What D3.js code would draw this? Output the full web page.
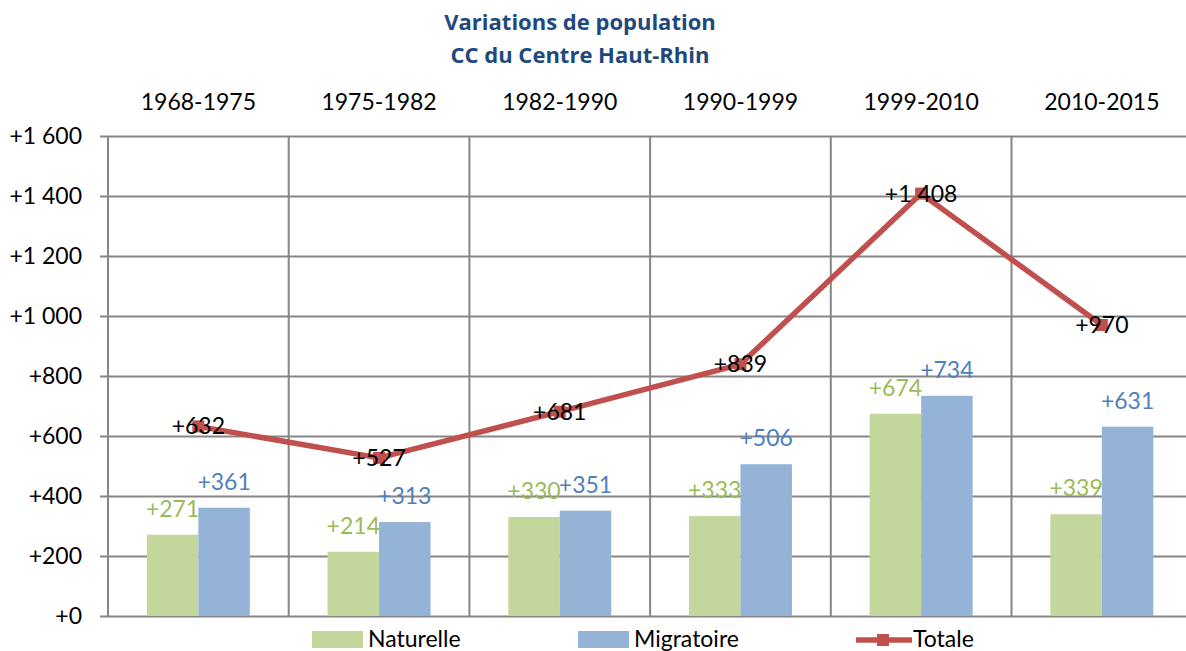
<!DOCTYPE html>
<html>
<head>
<meta charset="utf-8">
<script src="https://cdn.jsdelivr.net/npm/d3@7"></script>
<style>
  body { margin: 0; background: #fff; }
  svg text { font-family: Lato, "Open Sans", sans-serif; }
  svg text.title { font-family: "Open Sans", sans-serif; }
</style>
</head>
<body>
<div id="chart"></div>
<script>
// data
let periods = ["1968-1975", "1975-1982", "1982-1990", "1990-1999", "1999-2010", "2010-2015"];
let naturelle = [271, 214, 330, 333, 674, 339];
let migratoire = [361, 313, 351, 506, 734, 631];
let totale = [632, 527, 681, 839, 1408, 970];
let yTicks = [0, 200, 400, 600, 800, 1000, 1200, 1400, 1600];
let seriesNames = ["Naturelle", "Migratoire", "Totale"];

function makeChart() {
    let svgWidth = 1186;
    let svgHeight = 651;
    let margin = { top: 136, left: 108 };
    let w = 6 * 180.7;
    let h = 480;

    let fmt = v => {
        let s = String(Math.abs(v));
        s = s.replace(/\B(?=(\d{3})+(?!\d))/g, " ");
        return "+" + s;
    };

    let svg = d3.select("#chart")
        .append("svg")
        .attr("width", svgWidth)
        .attr("height", svgHeight);

    // title
    svg.append("text")
        .attr("class", "title")
        .attr("x", 580).attr("y", 30)
        .attr("text-anchor", "middle")
        .attr("font-size", "22px").attr("font-weight", "bold")
        .attr("fill", "#1f497d")
        .text("Variations de population");
    svg.append("text")
        .attr("class", "title")
        .attr("x", 580).attr("y", 63)
        .attr("text-anchor", "middle")
        .attr("font-size", "22px").attr("font-weight", "bold")
        .attr("fill", "#1f497d")
        .text("CC du Centre Haut-Rhin");

    let g = svg.append("g")
        .attr("transform", `translate(${margin.left}, ${margin.top})`);

    let x = d3.scaleBand().domain(periods).range([0, w]).padding(0);
    let xSub = d3.scaleBand().domain(["n", "m"]).range([0, x.bandwidth()])
        .paddingInner(0).paddingOuter(0.755);
    let y = d3.scaleLinear().domain([0, 1600]).range([h, 0]);

    // horizontal grid + ticks
    let yAxis = d3.axisLeft(y).tickValues(yTicks).tickFormat(fmt)
        .tickSize(-(w + 8)).tickPadding(18);
    let yg = g.append("g").call(yAxis);
    yg.select(".domain").remove();
    yg.selectAll(".tick line")
        .attr("x1", -8)
        .attr("x2", w)
        .attr("stroke", "#868686").attr("stroke-width", 2);
    yg.selectAll(".tick text")
        .attr("x", -26)
        .attr("font-size", "23px").attr("fill", "#000");

    // vertical grid lines at category boundaries
    g.append("g").selectAll("line")
        .data(periods)
        .enter().append("line")
        .attr("x1", d => x(d)).attr("x2", d => x(d))
        .attr("y1", 0).attr("y2", h)
        .attr("stroke", "#868686").attr("stroke-width", 2);

    // category labels on top
    let xAxis = d3.axisTop(x).tickSize(0).tickPadding(26);
    let xg = g.append("g").call(xAxis);
    xg.select(".domain").remove();
    xg.selectAll(".tick text").attr("font-size", "23px").attr("fill", "#000");

    // bars
    let barData = periods.map((p, i) => ({ p: p, n: naturelle[i], m: migratoire[i] }));
    let grp = g.append("g").selectAll("g")
        .data(barData).enter().append("g")
        .attr("transform", d => `translate(${x(d.p)},0)`);
    grp.append("rect")
        .attr("x", xSub("n")).attr("width", xSub.bandwidth())
        .attr("y", d => y(d.n)).attr("height", d => h - y(d.n))
        .attr("fill", "#c3d69b");
    grp.append("rect")
        .attr("x", xSub("m")).attr("width", xSub.bandwidth())
        .attr("y", d => y(d.m)).attr("height", d => h - y(d.m))
        .attr("fill", "#95b3d7");

    // line
    let cx = p => x(p) + x.bandwidth() / 2;
    let line = d3.line().x((d, i) => cx(periods[i])).y(d => y(d));
    g.append("path")
        .datum(totale)
        .attr("d", line)
        .attr("fill", "none")
        .attr("stroke", "#c0504d").attr("stroke-width", 5.5)
        .attr("stroke-linejoin", "round");
    g.append("g").selectAll("rect")
        .data(totale).enter().append("rect")
        .attr("x", (d, i) => cx(periods[i]) - 6)
        .attr("y", d => y(d) - 6)
        .attr("width", 12).attr("height", 12)
        .attr("fill", "#c0504d");

    // bar labels
    grp.append("text")
        .attr("x", xSub("n") + xSub.bandwidth() / 2)
        .attr("y", d => y(d.n) - 18)
        .attr("text-anchor", "middle")
        .attr("font-size", "23px").attr("fill", "#9bbb59")
        .text(d => fmt(d.n));
    grp.append("text")
        .attr("x", xSub("m") + xSub.bandwidth() / 2)
        .attr("y", d => y(d.m) - 18)
        .attr("text-anchor", "middle")
        .attr("font-size", "23px").attr("fill", "#4f81bd")
        .text(d => fmt(d.m));

    // line labels
    g.append("g").selectAll("text")
        .data(totale).enter().append("text")
        .attr("x", (d, i) => cx(periods[i]))
        .attr("y", d => y(d) + 8)
        .attr("text-anchor", "middle")
        .attr("font-size", "23px").attr("fill", "#000")
        .text(d => fmt(d));

    // legend
    let leg = svg.append("g");
    leg.append("rect").attr("x", 312).attr("y", 631).attr("width", 51).attr("height", 17).attr("fill", "#c3d69b");
    leg.append("text").attr("x", 368).attr("y", 647).attr("font-size", "23px").text(seriesNames[0]);
    leg.append("rect").attr("x", 578).attr("y", 631).attr("width", 51).attr("height", 17).attr("fill", "#95b3d7");
    leg.append("text").attr("x", 634).attr("y", 647).attr("font-size", "23px").text(seriesNames[1]);
    leg.append("line").attr("x1", 856).attr("x2", 912).attr("y1", 640).attr("y2", 640)
        .attr("stroke", "#c0504d").attr("stroke-width", 5.5);
    leg.append("rect").attr("x", 877).attr("y", 634).attr("width", 12).attr("height", 12).attr("fill", "#c0504d");
    leg.append("text").attr("x", 913).attr("y", 647).attr("font-size", "23px").text(seriesNames[2]);
}

makeChart();
</script>
</body>
</html>
